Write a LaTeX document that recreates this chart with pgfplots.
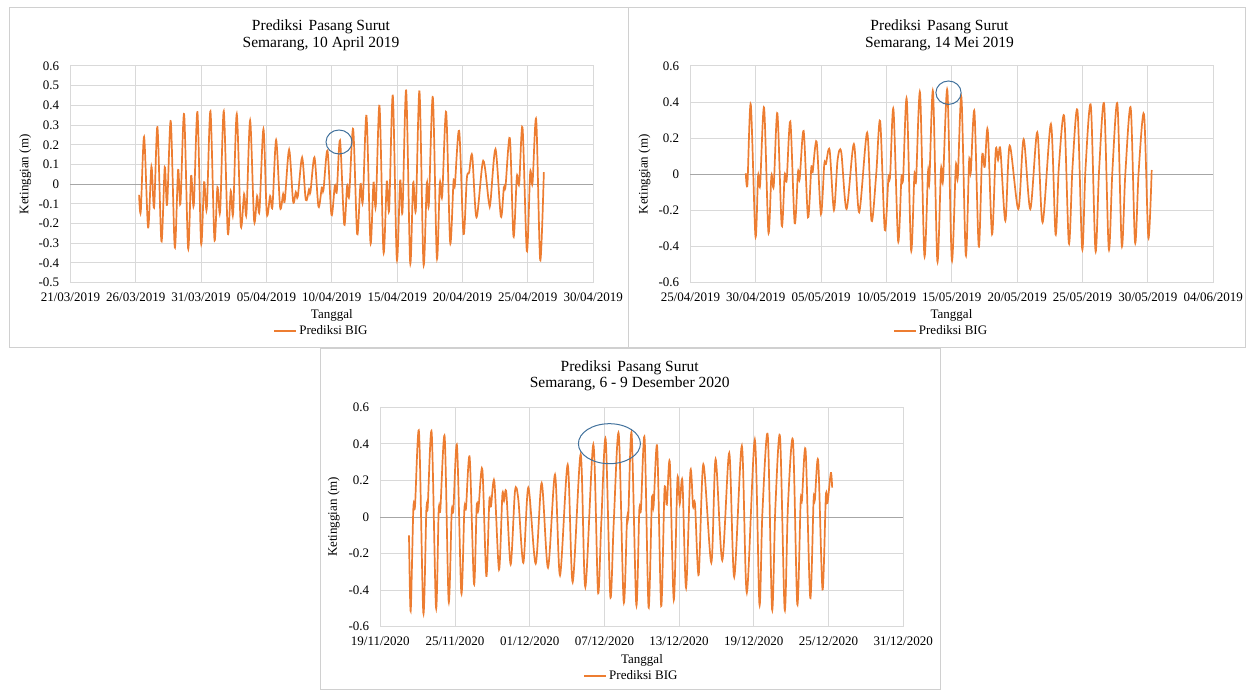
\documentclass[border=0pt]{standalone}
\usepackage{pgfplots}
\pgfplotsset{compat=1.18}
\usepackage{fontspec}
\setmainfont{Liberation Serif}
\definecolor{tideorange}{HTML}{ED7D31}
\definecolor{gridgray}{HTML}{D9D9D9}
\definecolor{zerogray}{HTML}{A6A6A6}
\definecolor{bordergray}{HTML}{D0D0D0}
\definecolor{circleblue}{HTML}{41719C}

\pgfplotstableread{
d v
5.255 -0.054
5.383 -0.14
5.638 0.24
5.944 -0.22
6.199 0.09
6.403 -0.12
6.658 0.29
6.964 -0.29
7.219 0.086
7.398 -0.105
7.679 0.32
7.985 -0.32
8.240 0.073
8.418 -0.10
8.699 0.356
9.005 -0.325
9.235 0.042
9.439 -0.108
9.719 0.366
10.000 -0.30
10.230 0.01
10.434 -0.125
10.714 0.37
11.020 -0.28
11.250 -0.015
11.454 -0.14
11.735 0.37
12.041 -0.246
12.270 -0.034
12.449 -0.15
12.730 0.356
13.036 -0.21
13.291 -0.05
13.469 -0.15
13.750 0.324
14.056 -0.185
14.286 -0.06
14.464 -0.136
14.770 0.28
15.026 -0.15
15.281 -0.06
15.459 -0.114
15.740 0.225
16.046 -0.117
16.276 -0.05
16.403 -0.083
16.735 0.175
17.041 -0.088
17.245 -0.04
17.398 -0.063
17.730 0.136
18.010 -0.08
18.265 -0.025
18.367 -0.04
18.673 0.136
18.980 -0.114
19.235 -0.017
19.362 -0.03
19.668 0.17
19.974 -0.156
20.230 -0.008
20.383 -0.037
20.630 0.222
20.950 -0.205
21.173 -0.007
21.327 -0.06
21.633 0.28
21.939 -0.253
22.194 0.0
22.372 -0.088
22.653 0.347
22.959 -0.297
23.189 0.008
23.367 -0.11
23.648 0.398
23.954 -0.344
24.209 0.014
24.388 -0.13
24.668 0.45
24.974 -0.38
25.230 0.019
25.408 -0.139
25.689 0.476
25.995 -0.397
26.224 0.008
26.429 -0.13
26.709 0.471
27.015 -0.405
27.270 0.005
27.423 -0.105
27.730 0.442
28.036 -0.373
28.265 0.005
28.444 -0.06
28.750 0.366
29.056 -0.297
29.311 0.014
29.413 -0.008
29.745 0.271
30.077 -0.253
30.332 0.03
30.510 0.06
30.740 0.146
31.071 -0.168
31.582 0.119
32.015 -0.092
32.143 -0.088
32.526 0.178
32.934 -0.164
33.163 -0.017
33.291 -0.012
33.622 0.234
33.903 -0.266
34.158 0.039
34.337 0.002
34.592 0.288
34.923 -0.339
35.179 0.059
35.357 0.005
35.638 0.327
35.944 -0.385
36.224 0.061
}\dataA

\pgfplotstableread{
d v
4.237 0.006
4.364 -0.054
4.618 0.388
4.975 -0.342
5.178 -0.009
5.331 -0.06
5.636 0.369
5.967 -0.321
6.196 -0.009
6.374 -0.065
6.654 0.338
6.985 -0.284
7.214 -0.004
7.366 -0.031
7.646 0.292
7.977 -0.271
8.232 0.013
8.359 -0.026
8.664 0.24
8.995 -0.238
9.249 0.037
9.351 0.011
9.656 0.181
9.987 -0.22
10.242 0.055
10.369 0.057
10.649 0.135
10.980 -0.198
11.260 0.079
11.539 0.124
11.947 -0.192
12.506 0.168
12.913 -0.21
13.524 0.231
13.855 -0.257
14.211 -0.004
14.517 0.295
14.873 -0.308
15.153 -0.017
15.280 -0.01
15.534 0.36
15.891 -0.369
16.145 -0.017
16.272 -0.026
16.552 0.417
16.883 -0.419
17.137 -0.004
17.265 -0.035
17.570 0.452
17.901 -0.45
18.181 0.015
18.282 -0.044
18.562 0.458
18.893 -0.48
19.173 0.028
19.326 -0.035
19.660 0.465
20.000 -0.474
20.305 0.046
20.458 -0.017
20.738 0.425
21.069 -0.447
21.323 0.074
21.450 0.009
21.730 0.347
22.061 -0.40
22.316 0.10
22.519 0.042
22.748 0.246
23.079 -0.332
23.359 0.131
23.537 0.079
23.715 0.139
24.097 -0.257
24.427 0.159
25.089 -0.192
25.496 0.194
26.005 -0.192
26.539 0.233
26.947 -0.266
27.583 0.279
27.939 -0.332
28.193 0.044
28.601 0.319
28.957 -0.382
29.237 0.042
29.618 0.351
29.975 -0.414
30.229 0.031
30.636 0.38
30.992 -0.423
31.272 0.028
31.654 0.388
32.010 -0.414
32.290 0.024
32.672 0.388
33.003 -0.395
33.282 0.011
33.690 0.366
34.020 -0.377
34.300 0.02
34.707 0.332
35.038 -0.351
35.293 0.024
}\dataB

\pgfplotstableread{
d v
2.305 -0.10
2.439 -0.515
2.653 0.046
2.787 0.058
3.108 0.465
3.456 -0.524
3.697 0.036
3.805 0.051
4.126 0.462
4.474 -0.496
4.688 0.036
4.822 0.04
5.170 0.438
5.491 -0.462
5.732 0.027
5.866 0.036
6.161 0.389
6.509 -0.416
6.750 0.04
6.884 0.049
7.178 0.325
7.526 -0.367
7.740 0.058
7.874 0.036
8.195 0.261
8.517 -0.323
8.758 0.091
8.892 0.058
9.159 0.195
9.534 -0.288
9.802 0.119
9.936 0.088
10.123 0.133
10.471 -0.259
10.819 0.142
11.087 0.095
11.489 -0.25
11.890 0.161
12.479 -0.255
12.961 0.186
13.470 -0.277
14.032 0.232
14.434 -0.319
15.050 0.286
15.451 -0.356
16.094 0.343
16.468 -0.383
17.111 0.396
17.486 -0.41
17.75 -0.03
18.102 0.425
18.476 -0.434
18.75 -0.03
19.15 0.455
19.547 -0.462
19.813 -0.018
19.92 0.009
20.187 0.456
20.56 -0.48
20.8 0.033
20.933 0.04
21.227 0.432
21.547 -0.493
21.813 0.095
21.947 0.055
22.24 0.383
22.56 -0.487
22.827 0.15
23.013 0.068
23.253 0.297
23.573 -0.453
23.867 0.206
24.053 0.073
24.267 0.195
24.56 -0.387
24.907 0.25
25.12 0.058
25.28 0.069
25.573 -0.316
25.947 0.288
26.587 -0.25
26.933 0.316
27.467 -0.237
28.027 0.35
28.427 -0.328
29.04 0.389
29.44 -0.414
30.08 0.423
30.453 -0.478
30.693 0.027
31.12 0.447
31.467 -0.505
31.733 0.055
32.107 0.438
32.48 -0.507
32.747 0.069
33.147 0.416
33.493 -0.478
33.76 0.082
33.867 0.091
34.16 0.365
34.533 -0.442
34.8 0.091
34.907 0.095
35.173 0.305
35.52 -0.396
35.787 0.115
35.92 0.077
36.187 0.241
36.293 0.161
}\dataC

\pgfplotsset{tidestyle/.style={
  scale only axis, anchor=south west,
  grid=major, major grid style={draw=gridgray, line width=1pt},
  axis line style={draw=gridgray, line width=1pt},
  major tick length=0pt,
  tick label style={font=\fontsize{13}{15}\selectfont},
  xticklabel style={inner sep=0pt, anchor=center, yshift=-15pt},
  yticklabel style={inner sep=0pt, anchor=east, xshift=-11pt},
  extra y ticks={0}, extra y tick labels={},
  extra y tick style={grid=major, major grid style={draw=zerogray, line width=1pt}},
  legend style={draw=none, fill=none, font=\fontsize{13}{15}\selectfont, anchor=center, inner sep=0pt},
  legend image code/.code={\draw[#1] (0pt,0pt) -- (22pt,0pt);},
}}

\begin{document}
\begin{tikzpicture}[x=1pt,y=1pt]
\path[use as bounding box] (0,0) rectangle (1246,690);
\draw[bordergray, line width=1pt] (9,682) rectangle (628,342);
\draw[bordergray, line width=1pt] (628,682) rectangle (1245,342);
\draw[bordergray, line width=1pt] (320,341) rectangle (940,0.5);

% Panel 1
\begin{axis}[tidestyle,
  at={(70.4pt,407.3pt)}, width=522.8pt, height=216.7pt,
  xmin=0, xmax=40, ymin=-0.5, ymax=0.6,
  xtick={0,5,10,15,20,25,30,35,40},
  xticklabels={21/03/2019,26/03/2019,31/03/2019,05/04/2019,10/04/2019,15/04/2019,20/04/2019,25/04/2019,30/04/2019},
  ytick={-0.5,-0.4,-0.3,-0.2,-0.1,0,0.1,0.2,0.3,0.4,0.5,0.6},
  yticklabels={-0.5,-0.4,-0.3,-0.2,-0.1,0,0.1,0.2,0.3,0.4,0.5,0.6},
  legend style={at={(axis description cs:0.4805,-0.223)}},
]
\addplot[tideorange, line width=1.7pt, smooth, tension=0.5] table[x=d,y=v] {\dataA};
\addlegendentry{Prediksi BIG}
\end{axis}

% Panel 2
\begin{axis}[tidestyle,
  at={(690.4pt,407.3pt)}, width=522.8pt, height=216.7pt,
  xmin=0, xmax=40, ymin=-0.6, ymax=0.6,
  xtick={0,5,10,15,20,25,30,35,40},
  xticklabels={25/04/2019,30/04/2019,05/05/2019,10/05/2019,15/05/2019,20/05/2019,25/05/2019,30/05/2019,04/06/2019},
  ytick={-0.6,-0.4,-0.2,0,0.2,0.4,0.6},
  yticklabels={-0.6,-0.4,-0.2,0,0.2,0.4,0.6},
  legend style={at={(axis description cs:0.4797,-0.223)}},
]
\addplot[tideorange, line width=1.7pt, smooth, tension=0.5] table[x=d,y=v] {\dataB};
\addlegendentry{Prediksi BIG}
\end{axis}

% Panel 3
\begin{axis}[tidestyle,
  at={(380.3pt,63.3pt)}, width=522.9pt, height=219.4pt,
  xmin=0, xmax=42, ymin=-0.6, ymax=0.6,
  xtick={0,6,12,18,24,30,36,42},
  xticklabels={19/11/2020,25/11/2020,01/12/2020,07/12/2020,13/12/2020,19/12/2020,25/12/2020,31/12/2020},
  ytick={-0.6,-0.4,-0.2,0,0.2,0.4,0.6},
  yticklabels={-0.6,-0.4,-0.2,0,0.2,0.4,0.6},
  legend style={at={(axis description cs:0.4804,-0.2247)}},
]
\addplot[tideorange, line width=1.7pt, smooth, tension=0.5] table[x=d,y=v] {\dataC};
\addlegendentry{Prediksi BIG}
\end{axis}

% titles
\node[align=center, font=\fontsize{15.5}{16.5}\selectfont] at (321,654.7) {Prediksi\hspace{2pt} Pasang Surut\\Semarang, 10 April 2019};
\node[align=center, font=\fontsize{15.5}{16.5}\selectfont] at (939.5,654.7) {Prediksi\hspace{2pt} Pasang Surut\\Semarang, 14 Mei 2019};
\node[align=center, font=\fontsize{15.5}{16.5}\selectfont] at (629.7,314.1) {Prediksi\hspace{2pt} Pasang Surut\\Semarang, 6 - 9 Desember 2020};

% axis titles
\node[rotate=90, font=\fontsize{13}{15}\selectfont] at (25.3,515.6) {Ketinggian (m)};
\node[rotate=90, font=\fontsize{13}{15}\selectfont] at (644.6,515.6) {Ketinggian (m)};
\node[rotate=90, font=\fontsize{13}{15}\selectfont] at (333.8,173) {Ketinggian (m)};
\node[font=\fontsize{13}{15}\selectfont] at (331.8,374.3) {Tanggal};
\node[font=\fontsize{13}{15}\selectfont] at (951.5,374.3) {Tanggal};
\node[font=\fontsize{13}{15}\selectfont] at (642,30) {Tanggal};

% highlight circles
\draw[circleblue, line width=1pt] (339,548) ellipse [x radius=13, y radius=12];
\draw[circleblue, line width=1pt] (948.5,597.3) ellipse [x radius=12.6, y radius=11.7];
\draw[circleblue, line width=1pt] (609.4,246.3) ellipse [x radius=31, y radius=20];
\end{tikzpicture}
\end{document}
